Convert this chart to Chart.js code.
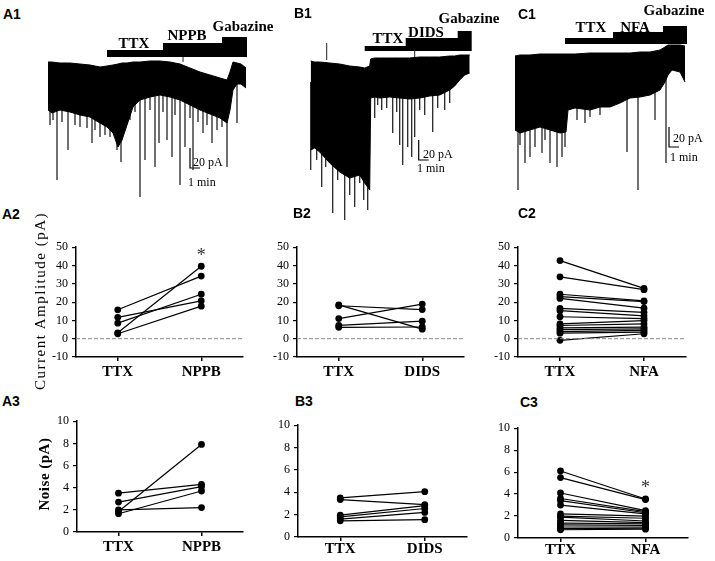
<!DOCTYPE html>
<html>
<head>
<meta charset="utf-8">
<script src="https://cdn.jsdelivr.net/npm/chart.js@4.4.1/dist/chart.umd.min.js"></script>
<style>
  body { margin: 0; background: #fff; }
  #fig { position: relative; width: 715px; height: 561px; overflow: hidden; background: #fff; }
  #fig canvas { position: absolute; }
  .lab { position: absolute; white-space: nowrap; line-height: 1; color: #000; transform: translate(-50%, -50%); }
  .panel { font: bold 14px "Liberation Sans", Arial, sans-serif; transform: translate(0, -50%); }
  .drug { font: bold 15px "Liberation Serif", "Times New Roman", serif; }
  .scale { font: 12px "Liberation Serif", "Times New Roman", serif; transform: translate(0, -50%); }
  .ytitle { font: 15px "Liberation Serif", "Times New Roman", serif; letter-spacing: 1.5px; transform: translate(-50%, -50%) rotate(-90deg); }
  .ytitle.b { font-weight: bold; letter-spacing: 0.5px; }
</style>
</head>
<body>
<div id="fig">
  <div class="lab panel" style="left:3px;top:14px">A1</div>
  <div class="lab panel" style="left:294px;top:13px">B1</div>
  <div class="lab panel" style="left:518px;top:14px">C1</div>
  <div class="lab panel" style="left:2px;top:214px">A2</div>
  <div class="lab panel" style="left:293px;top:213px">B2</div>
  <div class="lab panel" style="left:518px;top:213px">C2</div>
  <div class="lab panel" style="left:2px;top:401px">A3</div>
  <div class="lab panel" style="left:295px;top:401px">B3</div>
  <div class="lab panel" style="left:520px;top:402px">C3</div>

  <div class="lab drug" style="left:134px;top:43px">TTX</div>
  <div class="lab drug" style="left:187px;top:35px">NPPB</div>
  <div class="lab drug" style="left:243px;top:26px">Gabazine</div>
  <div class="lab drug" style="left:388px;top:38px">TTX</div>
  <div class="lab drug" style="left:426px;top:32px">DIDS</div>
  <div class="lab drug" style="left:469px;top:18px">Gabazine</div>
  <div class="lab drug" style="left:591px;top:27px">TTX</div>
  <div class="lab drug" style="left:635px;top:27px">NFA</div>
  <div class="lab drug" style="left:674px;top:10px">Gabazine</div>

  <div class="lab scale" style="left:193px;top:162px">20 pA</div>
  <div class="lab scale" style="left:188px;top:182px">1 min</div>
  <div class="lab scale" style="left:423px;top:154px">20 pA</div>
  <div class="lab scale" style="left:417px;top:168px">1 min</div>
  <div class="lab scale" style="left:673px;top:138px">20 pA</div>
  <div class="lab scale" style="left:670px;top:157px">1 min</div>

  <div class="lab ytitle" style="left:40px;top:301px">Current Amplitude (pA)</div>
  <div class="lab ytitle b" style="left:44px;top:474px">Noise (pA)</div>
</div>
<script>
// A = NPPB, B = DIDS, C = NFA
// recording traces: time (min) vs current (pA)
const a1Time   = [0, 0.4, 1.2, 2.2, 3.2, 4.2, 5.2, 5.9, 6.5, 7.0, 7.4, 7.9, 8.5, 9.2, 10.2, 11.2, 12.2, 13.2, 14.2, 15.2, 16.2, 17.2, 17.9, 18.2, 18.5, 18.9, 19.3, 19.8];
const a1Top    = [0, 0, -1, -1, -2, -3, -5, -4, -3, -2, -1, -1, 0, 0, 1, 1, 0, -2, -6, -10, -13, -16, -18, -10, 0, -1, -2, -6];
const a1Bottom = [-48, -51, -48, -50, -53, -55, -61, -65, -71, -85, -78, -63, -45, -38, -35, -33, -35, -38, -43, -48, -52, -56, -61, -48, -28, -22, -22, -26];
const a1SpikeT = [0.2, 0.5, 0.9, 1.4, 2.0, 2.7, 3.2, 3.9, 4.4, 4.7, 5.2, 5.7, 6.2, 6.9, 7.3, 8.2, 8.7, 9.2, 9.7, 10.2, 10.7, 11.1, 11.5, 11.9, 12.4, 12.7, 13.2, 13.7, 14.2, 14.5, 15.0, 15.5, 15.9, 16.4, 16.9, 17.4, 17.9, 18.9];
const a1SpikeI = [-63, -58, -118, -60, -88, -63, -65, -66, -81, -68, -75, -73, -75, -88, -100, -58, -50, -135, -98, -48, -105, -81, -50, -78, -95, -53, -123, -85, -56, -108, -60, -71, -63, -81, -68, -65, -105, -61];
const a1DrugT  = [5.9, 11.5, 17.4];
const a1EndT   = 19.9;
const a1ArtT   = [13.5];
const a1ArtI   = [5];

const b1Time   = [0, 0.4, 0.9, 1.9, 2.9, 3.9, 4.9, 5.4, 5.9, 6.0, 6.4, 6.9, 7.9, 8.9, 9.9, 10.9, 11.9, 12.9, 13.9, 14.4, 14.9, 15.4, 15.9];
const b1Top    = [1, 0, 0, -1, -2, -4, -5, -6, -4, 3, 4, 4, 4, 4, 4, 5, 5, 5, 6, 6, 7, 7, 7];
const b1Bottom = [-88, -86, -90, -101, -110, -116, -113, -121, -128, -36, -35, -36, -35, -36, -37, -36, -34, -33, -28, -24, -18, -13, -11];
const b1SpikeT = [0.0, 0.6, 1.1, 1.5, 2.2, 2.7, 3.4, 3.9, 4.4, 4.9, 5.3, 5.7, 6.4, 6.7, 7.1, 7.6, 8.2, 8.6, 8.9, 9.2, 9.7, 10.1, 10.4, 10.9, 11.4, 12.2, 12.7, 13.4, 13.9];
const b1SpikeI = [-108, -98, -125, -105, -151, -118, -158, -133, -145, -121, -138, -148, -56, -43, -48, -46, -71, -50, -83, -103, -85, -95, -75, -48, -53, -70, -46, -48, -41];
const b1DrugT  = [5.4, 9.5, 14.7];
const b1EndT   = 16.1;
const b1ArtT   = [1.6, 10.4];
const b1ArtI   = [19, 12];

const c1Time   = [0, 0.5, 1.5, 2.5, 3.5, 4.5, 5.1, 5.3, 6.0, 7.5, 8.5, 9.5, 10.5, 11.5, 12.5, 13.5, 14.5, 15.0, 15.3, 15.7, 16.5, 17.0];
const c1Top    = [-1, 0, 0, 1, 1, 1, 1, 1, 1, 2, 2, 2, 2, 2, 3, 3, 5, 8, 10, 10, 10, 9];
const c1Bottom = [-75, -78, -75, -72, -75, -78, -77, -55, -53, -55, -52, -52, -48, -43, -42, -40, -35, -27, -20, -15, -17, -27];
const c1SpikeT = [0.3, 0.5, 1.0, 1.5, 2.0, 2.7, 3.0, 3.5, 4.2, 4.7, 5.0, 6.2, 7.0, 7.5, 8.5, 11.2, 12.3, 14.0, 15.1];
const c1SpikeI = [-135, -90, -108, -102, -92, -98, -85, -108, -112, -102, -92, -65, -68, -62, -60, -97, -135, -65, -108];
const c1DrugT  = [5.0, 9.8, 14.8];
const c1EndT   = 17.2;
const c1ArtT   = [];
const c1ArtI   = [];

// paired amplitude (pA) before and after each blocker
const a2Ttx  = [15.8, 11.7, 8.5, 3.2, 2.7];
const a2Nppb = [34.2, 20.7, 24.3, 39.6, 17.8];
const b2Ttx  = [18.5, 18.0, 11.0, 7.3, 6.2];
const b2Dids = [5.2, 15.9, 18.9, 9.6, 6.4];
const c2Ttx  = [42.7, 33.8, 24.3, 23.0, 22.0, 16.6, 15.3, 12.0, 8.1, 7.2, 5.9, 5.0, 3.9, 3.0, -0.9];
const c2Nfa  = [27.5, 26.8, 20.7, 20.3, 16.7, 14.4, 12.5, 11.0, 9.9, 8.1, 6.3, 5.4, 4.5, 3.6, 2.7];

// paired noise (pA)
const a3Ttx  = [3.5, 2.7, 2.0, 1.85, 1.65];
const a3Nppb = [4.3, 4.1, 2.2, 7.9, 3.7];
const b3Ttx  = [3.5, 3.35, 1.95, 1.8, 1.6, 1.45];
const b3Dids = [4.05, 2.9, 2.8, 2.55, 2.2, 1.55];
const c3Ttx  = [6.1, 5.5, 4.1, 3.6, 3.4, 3.0, 2.2, 2.0, 1.9, 1.6, 1.35, 1.2, 1.0, 0.85, 0.75];
const c3Nfa  = [3.55, 3.5, 2.5, 2.4, 2.3, 2.2, 2.0, 1.8, 1.55, 1.4, 1.3, 1.15, 1.0, 0.9, 0.8];

const ampTicks   = [-10, 0, 10, 20, 30, 40, 50];
const noiseTicks = [0, 2, 4, 6, 8, 10];

const SERIF = '"Liberation Serif", "Times New Roman", serif';
Chart.defaults.animation = false;
Chart.defaults.responsive = false;
Chart.defaults.maintainAspectRatio = false;
Chart.defaults.plugins.legend.display = false;
Chart.defaults.plugins.tooltip.enabled = false;
Chart.defaults.color = '#000';

const fig = document.getElementById('fig');
function makeCanvas(left, top, w, h) {
  const c = document.createElement('canvas');
  c.width = w; c.height = h;
  c.style.left = left + 'px'; c.style.top = top + 'px';
  c.style.width = w + 'px'; c.style.height = h + 'px';
  fig.insertBefore(c, fig.firstChild);
  return c;
}

// significance marks at data coordinates
const starPlugin = {
  id: 'stars',
  afterDatasetsDraw(chart, args, opts) {
    const { ctx, scales } = chart;
    (opts.items || []).forEach(s => {
      ctx.save();
      ctx.font = '18px ' + SERIF;
      ctx.fillStyle = '#333';
      ctx.textAlign = 'center';
      ctx.textBaseline = 'middle';
      ctx.fillText('*', scales.x.getPixelForValue(s.x), scales.y.getPixelForValue(s.y));
      ctx.restore();
    });
  }
};

function traceChart(f, time, top, bottom, spT, spI, drugT, endT, artT, artI) {
  const cv = makeCanvas(f.left, f.top, f.w, f.h);
  const sets = [];
  sets.push({ data: time.map((t, i) => ({ x: t, y: bottom[i] })), borderColor: '#000', borderWidth: 1, fill: false });
  sets.push({ data: time.map((t, i) => ({ x: t, y: top[i] })), borderColor: '#000', borderWidth: 1, backgroundColor: '#000', fill: '-1' });
  const ev = [];
  spT.forEach((t, i) => ev.push({ x: t, y: f.spikeFrom }, { x: t, y: spI[i] }, { x: t, y: null }));
  sets.push({ data: ev, borderColor: '#262626', borderWidth: 1.3, spanGaps: false });
  const art = [];
  artT.forEach((t, i) => art.push({ x: t, y: f.artFrom }, { x: t, y: artI[i] }, { x: t, y: null }));
  sets.push({ data: art, borderColor: '#222', borderWidth: 1, spanGaps: false });
  // drug application bars, stacked
  drugT.forEach((t0, k) => {
    sets.push({ data: [{ x: t0, y: f.barY[k] }, { x: endT, y: f.barY[k] }], borderColor: '#000', borderWidth: f.barW[k], borderCapStyle: 'butt' });
  });
  // 20 pA / 1 min scale bar
  const s = f.scaleAt;
  sets.push({ data: [{ x: s[0], y: s[1] + 20 }, { x: s[0], y: s[1] }, { x: s[0] + 1, y: s[1] }], borderColor: '#000', borderWidth: 1.2 });
  new Chart(cv, {
    type: 'line',
    data: { datasets: sets },
    options: {
      layout: { padding: 0 },
      elements: { point: { radius: 0 }, line: { tension: 0 } },
      scales: {
        x: { type: 'linear', display: false, min: f.xMin, max: f.xMax },
        y: { display: false, min: f.yMin, max: f.yMax }
      }
    }
  });
}

function pairChart(f, ttx, drug, drugName, ticks, zero, stars) {
  const w = f.x1 - f.x0 + 46, h = f.yBot - f.yTop + 10 + f.axisH;
  const cv = makeCanvas(f.x0 - 40, f.yTop - 10, w, h);
  const sets = [];
  if (zero) sets.push({ data: [{ x: 0, y: 0 }, { x: 4, y: 0 }], borderColor: '#888', borderWidth: 1, borderDash: [4, 2], pointRadius: 0 });
  ttx.forEach((v, i) => sets.push({
    data: [{ x: 1, y: v }, { x: 3, y: drug[i] }],
    borderColor: '#000', borderWidth: 1.2, pointRadius: 3.4,
    pointBackgroundColor: '#000', pointBorderWidth: 0, clip: false
  }));
  new Chart(cv, {
    type: 'line',
    data: { datasets: sets },
    options: {
      layout: { padding: { top: 10, right: 6, left: 0, bottom: 0 } },
      elements: { line: { tension: 0 } },
      scales: {
        x: {
          type: 'linear', min: 0, max: 4,
          afterBuildTicks: s => { s.ticks = [{ value: 1 }, { value: 3 }]; },
          afterFit: s => { s.height = f.axisH; },
          ticks: { callback: v => (v === 1 ? 'TTX' : drugName), font: { family: SERIF, size: 15, weight: 'bold' }, color: '#000', padding: f.labPad, maxRotation: 0, autoSkip: false },
          grid: { drawOnChartArea: false, tickLength: 4, color: '#000', lineWidth: 1.5 },
          border: { color: '#000', width: 1.5 }
        },
        y: {
          min: ticks[0], max: ticks[ticks.length - 1],
          afterBuildTicks: s => { s.ticks = ticks.map(v => ({ value: v })); },
          afterFit: s => { s.width = 40; },
          ticks: { font: { family: SERIF, size: 12 }, color: '#000', padding: 4 },
          grid: { drawOnChartArea: false, tickLength: 4, color: '#000', lineWidth: 1.2 },
          border: { color: '#000', width: 1.5 }
        }
      },
      plugins: { stars: { items: stars || [] } }
    },
    plugins: [starPlugin]
  });
}

traceChart({ left: 40, top: 0, w: 215, h: 205, xMin: -0.8, xMax: 20.7, yMin: -143, yMax: 62,
  spikeFrom: -20, artFrom: 0, barY: [8.5, 15.5, 22], barW: [7, 7, 6], scaleAt: [14.2, -106] },
  a1Time, a1Top, a1Bottom, a1SpikeT, a1SpikeI, a1DrugT, a1EndT, a1ArtT, a1ArtI);
traceChart({ left: 290, top: 0, w: 190, h: 225, xMin: -2.07, xMax: 16.93, yMin: -163, yMax: 62,
  spikeFrom: -20, artFrom: 2, barY: [13.5, 20, 27.5], barW: [5, 8, 7], scaleAt: [10.8, -98] },
  b1Time, b1Top, b1Bottom, b1SpikeT, b1SpikeI, b1DrugT, b1EndT, b1ArtT, b1ArtI);
traceChart({ left: 505, top: 0, w: 200, h: 200, xMin: -1, xMax: 19, yMin: -145, yMax: 55,
  spikeFrom: -20, artFrom: 0, barY: [14, 20, 26], barW: [6, 6, 6], scaleAt: [15.4, -92] },
  c1Time, c1Top, c1Bottom, c1SpikeT, c1SpikeI, c1DrugT, c1EndT, c1ArtT, c1ArtI);

pairChart({ x0: 76, x1: 243, yTop: 246, yBot: 357, axisH: 29, labPad: 2 }, a2Ttx, a2Nppb, 'NPPB', ampTicks, true, [{ x: 3, y: 45 }]);
pairChart({ x0: 297, x1: 464, yTop: 246, yBot: 357, axisH: 29, labPad: 2 }, b2Ttx, b2Dids, 'DIDS', ampTicks, true);
pairChart({ x0: 518, x1: 686, yTop: 246, yBot: 357, axisH: 29, labPad: 2 }, c2Ttx, c2Nfa, 'NFA', ampTicks, true);
pairChart({ x0: 77, x1: 243, yTop: 420, yBot: 532, axisH: 29, labPad: 2 }, a3Ttx, a3Nppb, 'NPPB', noiseTicks, false);
pairChart({ x0: 298, x1: 467, yTop: 424, yBot: 537, axisH: 24, labPad: -1 }, b3Ttx, b3Dids, 'DIDS', noiseTicks, false);
pairChart({ x0: 518, x1: 688, yTop: 427, yBot: 538, axisH: 23, labPad: -1 }, c3Ttx, c3Nfa, 'NFA', noiseTicks, false, [{ x: 3, y: 4.5 }]);
</script>
</body>
</html>
